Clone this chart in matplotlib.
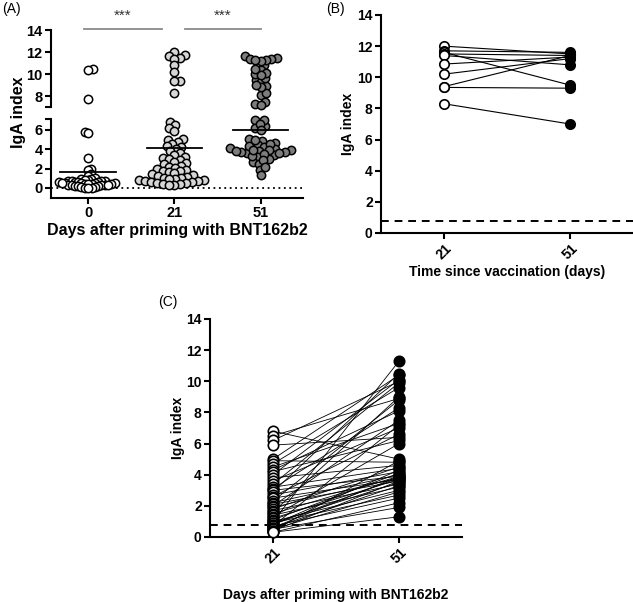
import numpy as np
import matplotlib
matplotlib.use("Agg")
import matplotlib.pyplot as plt

plt.rcParams['font.family'] = ['Liberation Sans', 'DejaVu Sans']

# ---- data ----
# (A) day 0 values
day0 = [10.5, 10.4, 7.7, 5.8, 5.7, 3.1, 2.0, 1.9, 1.4, 1.2, 1.0, 0.9, 0.9, 0.8,
        0.8, 0.7, 0.7, 0.7, 0.7, 0.6, 0.6, 0.6, 0.6, 0.5, 0.5, 0.5, 0.5, 0.4,
        0.4, 0.4, 0.4, 0.3, 0.3, 0.3, 0.3, 0.2, 0.2, 0.2, 0.1, 0.1, 0.0, 0.0,
        0.0, 0.5, 0.3]

# (B) subjects already high at day 21
b_d21 = [12.0, 11.7, 11.6, 11.5, 11.4, 10.85, 10.2, 9.4, 9.35, 8.3]
b_d51 = [11.5, 11.6, 9.5, 11.4, 10.8, 11.3, 11.2, 11.4, 9.3, 7.0]

# (C) remaining subjects
c_d21 = [6.8, 6.5, 6.2, 5.9, 5.0, 4.9, 4.7, 4.5, 4.3, 4.2, 4.0, 3.8, 3.6, 3.4,
         3.2, 3.1, 3.0, 2.9, 2.7, 2.6, 2.5, 2.3, 2.2, 2.1, 2.0, 1.9, 1.8, 1.7,
         1.6, 1.5, 1.4, 1.3, 1.2, 1.1, 1.0, 1.0, 0.9, 0.9, 0.8, 0.8, 0.7, 0.7,
         0.6, 0.6, 0.5, 0.5, 0.4, 0.4, 0.3, 0.3]
c_d51 = [5.0, 8.9, 10.0, 6.4, 10.4, 4.8, 9.6, 7.3, 8.1, 6.2, 10.1, 4.6, 7.0, 9.9,
         4.4, 8.3, 3.9, 10.5, 4.2, 6.6, 3.7, 8.8, 4.0, 3.6, 7.5, 3.8, 4.5, 3.4,
         9.0, 3.9, 3.2, 6.0, 3.7, 4.1, 3.0, 11.3, 3.5, 2.7, 4.3, 3.8, 2.5, 7.2,
         3.3, 3.9, 1.9, 2.9, 4.9, 3.6, 1.3, 2.2]

days_a = ['0', '21', '51']
means_a = [1.6, 4.1, 6.0]
days_bc = ['21', '51']
cutoff = 0.8

groups_a = [day0, b_d21 + c_d21, b_d51 + c_d51]
fills_a = ['white', '#d6d6d6', '#7d7d7d']
spread_lo = [3.4, 5.9, 5.9]   # swarm spacing (px) in the lower part, per group

FS = 10
FSA = 10.5
W, H = 633, 602
fig = plt.figure(figsize=(W / 100, H / 100), dpi=100)


def box(l, t, r, b):
    # pixel box (from top-left) -> figure fraction
    return [l / W, 1 - b / H, (r - l) / W, (b - t) / H]


def style(ax, fs):
    for s in ['top', 'right']:
        ax.spines[s].set_visible(False)
    for s in ['left', 'bottom']:
        ax.spines[s].set_linewidth(1.5)
    ax.tick_params(width=1.5, length=4, labelsize=fs, pad=2)
    for lab in ax.get_xticklabels() + ax.get_yticklabels():
        lab.set_fontweight('bold')


def swarm(ax, x0, vals, d_px, **kw):
    vals = np.asarray(vals, float)
    if len(vals) == 0:
        return
    pts = ax.transData.transform(np.column_stack([np.full(len(vals), x0), vals]))
    ypx = pts[:, 1]
    xunit = ax.transData.transform([(1, 0)])[0][0] - ax.transData.transform([(0, 0)])[0][0]
    placed = []
    xs = np.zeros(len(vals))
    for k, i in enumerate(np.argsort(ypx)):
        y = ypx[i]
        near = [(a, b) for a, b in placed if abs(b - y) < d_px]
        cands = [0.0]
        for a, b in near:
            dx = np.sqrt(d_px ** 2 - (b - y) ** 2)
            cands += [a + dx, a - dx]
        # alternate sides on ties so the swarm stays centred
        sign = 1 if k % 2 else -1
        cands.sort(key=lambda c: (round(abs(c), 3), sign * c))
        for c in cands:
            if all((c - a) ** 2 + (y - b) ** 2 >= d_px ** 2 - 1e-6 for a, b in near):
                break
        xs[i] = c
        placed.append((c, y))
    ax.scatter(x0 + xs / xunit, vals, clip_on=False, zorder=3, **kw)


# ---------------- (A) broken-axis scatter ----------------
ax_hi = fig.add_axes(box(51, 30, 303, 107))
ax_lo = fig.add_axes(box(51, 119, 303, 198))
for ax in (ax_hi, ax_lo):
    ax.set_xlim(-0.43, 2.49)
ax_hi.set_ylim(7, 14)
ax_lo.set_ylim(-1.03, 7.1)

ax_hi.spines['bottom'].set_visible(False)
ax_hi.set_xticks([])
ax_hi.set_yticks([7, 8, 10, 12, 14])
ax_hi.set_yticklabels(['', '8', '10', '12', '14'])
ax_lo.set_yticks([0, 2, 4, 6, 7.1])
ax_lo.set_yticklabels(['0', '2', '4', '6', ''])
ax_lo.set_xticks(range(3))
ax_lo.set_xticklabels(days_a)
style(ax_hi, FSA)
style(ax_lo, FSA)

ax_lo.axhline(0, color='black', lw=1.3, ls=(0, (1, 2)), zorder=1)

for i, vals in enumerate(groups_a):
    vals = np.asarray(vals)
    kw = dict(s=36, facecolor=fills_a[i], edgecolor='black', linewidth=1.1)
    swarm(ax_hi, i, vals[vals > 7], 5.5, **kw)
    swarm(ax_lo, i, vals[vals <= 7], spread_lo[i], **kw)
    ax_lo.plot([i - 0.32, i + 0.32], [means_a[i], means_a[i]], color='black', lw=1.3, zorder=4)

# significance brackets
for x1, x2 in [(-0.05, 0.86), (1.12, 2.0)]:
    ax_hi.plot([x1, x2], [14.05, 14.05], color='#8a8a8a', lw=1.3, clip_on=False)
    ax_hi.text((x1 + x2) / 2, 15.3, '***', ha='center', va='center', fontsize=11,
               color='#333333')

ax_lo.set_xlabel('Days after priming with BNT162b2', fontsize=11.5,
                 fontweight='bold', labelpad=2)
fig.text(19 / W, 1 - 112 / H, 'IgA index', rotation=90, ha='center', va='center',
         fontsize=11.5, fontweight='bold')
fig.text(2 / W, 1 - 9 / H, '(A)', ha='left', va='center', fontsize=FS)


# ---------------- (B) and (C) paired plots ----------------
def paired(rect, d21, d51, s, lw, xlabel, label, lab_xy, ylab_x, xlab_pad):
    ax = fig.add_axes(rect)
    ax.set_xlim(-0.5, 1.5)
    ax.set_ylim(0, 14)
    for a, b in zip(d21, d51):
        ax.plot([0, 1], [a, b], color='black', lw=lw, zorder=2)
    ax.scatter(np.zeros(len(d21)), d21, s=s, facecolor='white', edgecolor='black',
               linewidth=1.2, zorder=3, clip_on=False)
    ax.scatter(np.ones(len(d51)), d51, s=s, facecolor='black', edgecolor='black',
               linewidth=1.2, zorder=3, clip_on=False)
    ax.axhline(cutoff, color='black', lw=1.4, ls=(0, (4, 3)), zorder=1)
    ax.set_xticks([0, 1])
    ax.set_xticklabels(days_bc, rotation=45, ha='center')
    ax.set_yticks(range(0, 15, 2))
    style(ax, FS)
    ax.set_xlabel(xlabel, fontsize=FS, fontweight='bold', labelpad=xlab_pad)
    pos = ax.get_position()
    fig.text(ylab_x / W, pos.y0 + pos.height / 2, 'IgA index', rotation=90,
             ha='center', va='center', fontsize=FS, fontweight='bold')
    fig.text(lab_xy[0] / W, 1 - lab_xy[1] / H, label, ha='left', va='center', fontsize=FS)
    return ax


paired(box(381, 15, 633, 233), b_d21, b_d51, 46, 0.8,
       'Time since vaccination (days)', '(B)', (326, 9), 348, 2)
paired(box(210, 319, 462, 537), c_d21, c_d51, 56, 0.6,
       'Days after priming with BNT162b2', '(C)', (158, 302), 178, 16)

fig.savefig('out.png', dpi=100)
